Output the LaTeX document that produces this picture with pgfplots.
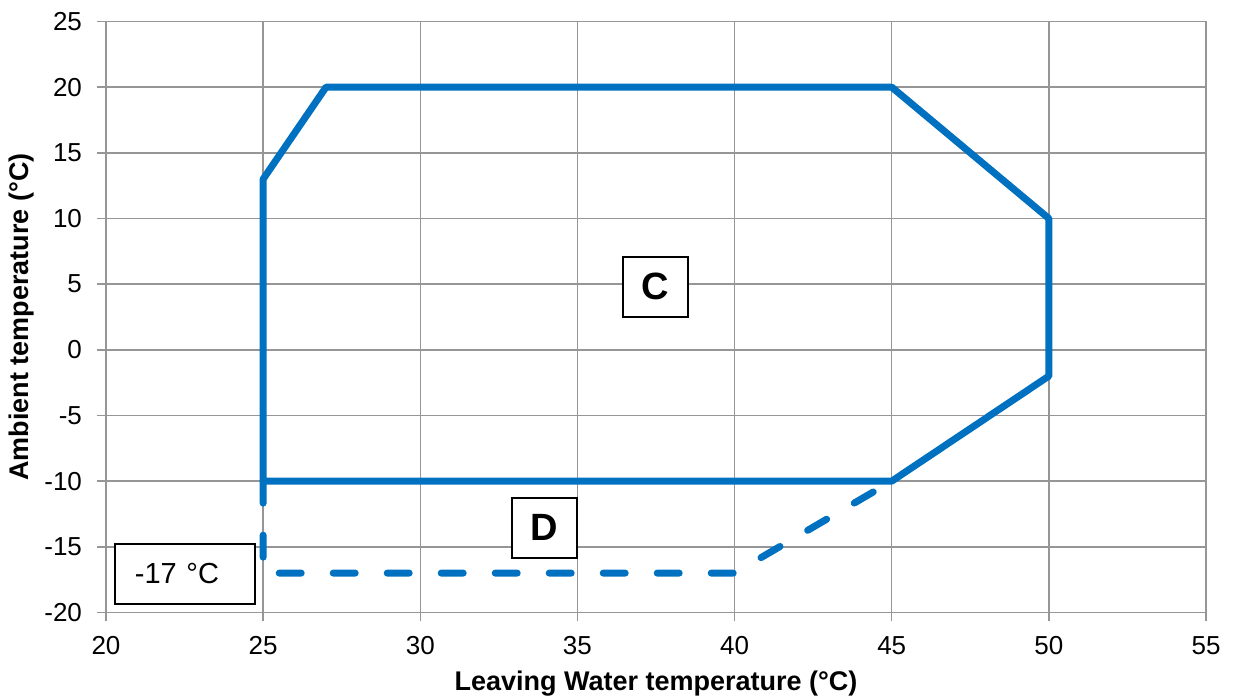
\documentclass[border=0pt]{standalone}
\usepackage{fontspec}
\setmainfont{Liberation Sans}
\usepackage{pgfplots}
\pgfplotsset{compat=1.18}

\definecolor{envblue}{RGB}{0,112,192}
\definecolor{gridgray}{RGB}{150,150,150}

\begin{document}
\begin{tikzpicture}
\begin{axis}[
    scale only axis,
    width=550pt, height=295.5pt,
    xmin=20, xmax=55, ymin=-20, ymax=25,
    xtick={20,25,...,55}, ytick={-20,-15,...,25},
    grid=major,
    major grid style={gridgray, line width=0.75pt},
    axis line style={gridgray, line width=0.75pt},
    tick style={gridgray, line width=0.75pt},
    tick align=outside,
    major tick length=4.5pt,
    xtick pos=bottom, ytick pos=left,
    /pgf/number format/assume math mode=true,
    ticklabel style={font=\fontsize{13}{15}\selectfont, text=black},
    xticklabel style={yshift=-4pt},
    yticklabel style={xshift=-4pt},
    xlabel={Leaving Water temperature (°C)},
    ylabel={Ambient temperature (°C)},
    label style={font=\fontsize{13.5}{16}\selectfont\bfseries},
    xlabel style={at={(axis description cs:0.5,0)}, anchor=center, yshift=-35.5pt},
    ylabel style={at={(axis description cs:0,0.5)}, anchor=center, yshift=42pt},
    clip=false,
]
% operating envelope (solid)
\addplot[envblue, line width=3.5pt, line join=round, line cap=round]
    coordinates {
        (25,13) (27,20) (45,20) (50,10) (50,-2) (45,-10) (25,-10) (25,13)
    };
% extended zone (dashed)
\addplot[envblue, line width=3.5pt, line join=round, line cap=round,
         dash pattern=on 11pt off 16pt]
    coordinates {
        (25,-10) (25,-17) (40,-17) (45,-10)
    };
\node[draw=black, line width=1pt, fill=white, minimum width=32.5pt, minimum height=30pt,
      inner sep=0pt, font=\fontsize{19}{22}\selectfont\bfseries]
    at (axis cs:37.47,4.82) {C};
\node[draw=black, line width=1pt, fill=white, minimum width=32.5pt, minimum height=30pt,
      inner sep=0pt, font=\fontsize{19}{22}\selectfont\bfseries]
    at (axis cs:33.95,-13.54) {D};
\node[draw=black, line width=1pt, fill=white, text width=50pt, inner xsep=10pt,
      inner ysep=0pt, minimum height=30pt, align=left,
      font=\fontsize{14.5}{17}\selectfont]
    at (axis cs:22.51,-17.04) {-17 °C};
\coordinate (SW) at (rel axis cs:0,0);
\coordinate (NE) at (rel axis cs:1,1);
\end{axis}
\pgfresetboundingbox
\path ([shift={(-53pt,-43pt)}]SW) rectangle ([shift={(14.5pt,10.75pt)}]NE);
\end{tikzpicture}
\end{document}
